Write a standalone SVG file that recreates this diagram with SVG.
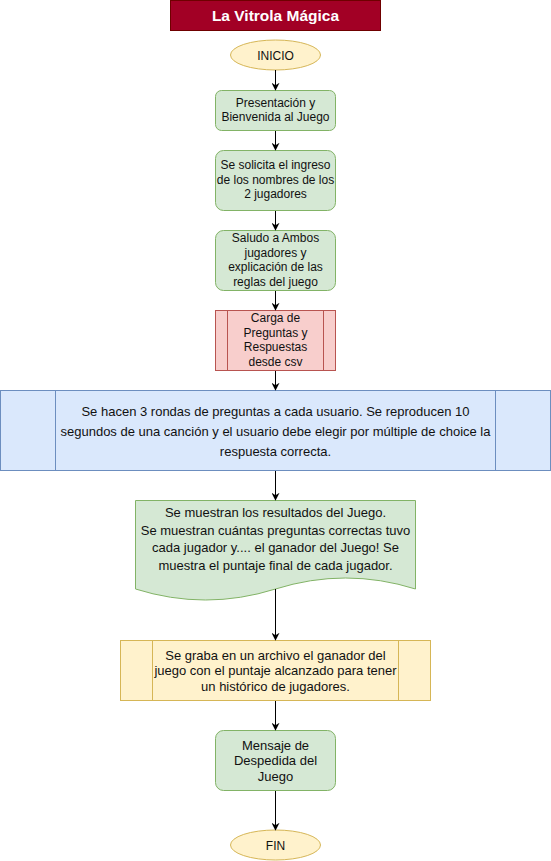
<svg xmlns="http://www.w3.org/2000/svg" width="551" height="861" viewBox="0 0 551 861">
<style>
text{font-family:"Liberation Sans",Arial,sans-serif;fill:#111;text-anchor:middle}
.s12{font-size:12px}
.s13{font-size:13px}
.green{fill:#d5e8d4;stroke:#82b366;stroke-width:1}
.yellow{fill:#fff2cc;stroke:#d6b656;stroke-width:1}
.red{fill:#f8cecc;stroke:#b85450;stroke-width:1}
.blue{fill:#dae8fc;stroke:#6c8ebf;stroke-width:1}
.edge{stroke:#000;stroke-width:1;fill:none;marker-end:url(#arr)}
</style>
<defs>
<marker id="arr" viewBox="0 0 10 10" refX="9" refY="5" markerWidth="8" markerHeight="8" markerUnits="userSpaceOnUse" orient="auto">
<path d="M0,0 L10,5 L0,10 L3,5 Z" fill="#000"/>
</marker>
</defs>
<rect width="551" height="861" fill="#fff"/>
<g id="title">
<rect x="170.5" y="0.5" width="210" height="30" fill="#a20025" stroke="#6f0000"/>
<text x="275.5" y="21" style="font-size:15.5px;font-weight:bold;fill:#fff">La Vitrola Mágica</text>
</g>
<g id="inicio">
<ellipse cx="275.5" cy="55" rx="45" ry="15" class="yellow"/>
<text class="s12" x="275.5" y="59.5">INICIO</text>
</g>
<g id="presentacion">
<rect x="215.5" y="90.5" width="120" height="40" rx="6" class="green"/>
<text class="s12" x="275.5" y="107">Presentación y</text>
<text class="s12" x="275.5" y="121">Bienvenida al Juego</text>
</g>
<g id="ingreso">
<rect x="215.5" y="150.5" width="120" height="60" rx="8" class="green"/>
<text class="s12" x="275.5" y="169">Se solicita el ingreso</text>
<text class="s12" x="275.5" y="183.5">de los nombres de los</text>
<text class="s12" x="275.5" y="198">2 jugadores</text>
</g>
<g id="saludo">
<rect x="215.5" y="230.5" width="120" height="60" rx="8" class="green"/>
<text class="s12" x="275.5" y="242">Saludo a Ambos</text>
<text class="s12" x="275.5" y="256.5">jugadores y</text>
<text class="s12" x="275.5" y="271">explicación de las</text>
<text class="s12" x="275.5" y="285.5">reglas del juego</text>
</g>
<g id="carga">
<rect x="215.5" y="310.5" width="120" height="60" class="red"/>
<line x1="227.5" y1="310.5" x2="227.5" y2="370.5" class="red"/>
<line x1="323.5" y1="310.5" x2="323.5" y2="370.5" class="red"/>
<text class="s12" x="275.5" y="322">Carga de</text>
<text class="s12" x="275.5" y="336.5">Preguntas y</text>
<text class="s12" x="275.5" y="351">Respuestas</text>
<text class="s12" x="275.5" y="365.5">desde csv</text>
</g>
<g id="rondas">
<rect x="0.5" y="390.5" width="550" height="80" class="blue"/>
<line x1="55.5" y1="390.5" x2="55.5" y2="470.5" class="blue"/>
<line x1="495.5" y1="390.5" x2="495.5" y2="470.5" class="blue"/>
<text class="s13" x="275.5" y="416">Se hacen 3 rondas de preguntas a cada usuario. Se reproducen 10</text>
<text class="s13" x="275.5" y="436">segundos de una canción y el usuario debe elegir por múltiple de choice la</text>
<text class="s13" x="275.5" y="456">respuesta correcta.</text>
</g>
<g id="resultados">
<path d="M135.5,500.5 H415.5 V589 Q345.5,567 275.5,589 Q205.5,611 135.5,589 Z" class="green"/>
<text class="s13" x="275.5" y="517">Se muestran los resultados del Juego.</text>
<text class="s13" x="275.5" y="534.5">Se muestran cuántas preguntas correctas tuvo</text>
<text class="s13" x="275.5" y="552">cada jugador y.... el ganador del Juego! Se</text>
<text class="s13" x="275.5" y="569.5">muestra el puntaje final de cada jugador.</text>
</g>
<g id="graba">
<rect x="120.5" y="640.5" width="310" height="60" class="yellow"/>
<line x1="152.5" y1="640.5" x2="152.5" y2="700.5" class="yellow"/>
<line x1="398.5" y1="640.5" x2="398.5" y2="700.5" class="yellow"/>
<text class="s13" x="275.5" y="659.5">Se graba en un archivo el ganador del</text>
<text class="s13" x="275.5" y="675">juego con el puntaje alcanzado para tener</text>
<text class="s13" x="275.5" y="690.5">un histórico de jugadores.</text>
</g>
<g id="despedida">
<rect x="215.5" y="730.5" width="120" height="60" rx="8" class="green"/>
<text class="s13" x="275.5" y="749.5">Mensaje de</text>
<text class="s13" x="275.5" y="765">Despedida del</text>
<text class="s13" x="275.5" y="780.5">Juego</text>
</g>
<g id="fin">
<ellipse cx="275.5" cy="845" rx="45" ry="15" class="yellow"/>
<text class="s12" x="275.5" y="849.5">FIN</text>
</g>
<g id="connectors">
<line x1="275.5" y1="70" x2="275.5" y2="90" class="edge"/>
<line x1="275.5" y1="131" x2="275.5" y2="150" class="edge"/>
<line x1="275.5" y1="211" x2="275.5" y2="230" class="edge"/>
<line x1="275.5" y1="291" x2="275.5" y2="310" class="edge"/>
<line x1="275.5" y1="371" x2="275.5" y2="390" class="edge"/>
<line x1="275.5" y1="471" x2="275.5" y2="500" class="edge"/>
<line x1="275.5" y1="589" x2="275.5" y2="640" class="edge"/>
<line x1="275.5" y1="701" x2="275.5" y2="730" class="edge"/>
<line x1="275.5" y1="791" x2="275.5" y2="830" class="edge"/>
</g>
</svg>
